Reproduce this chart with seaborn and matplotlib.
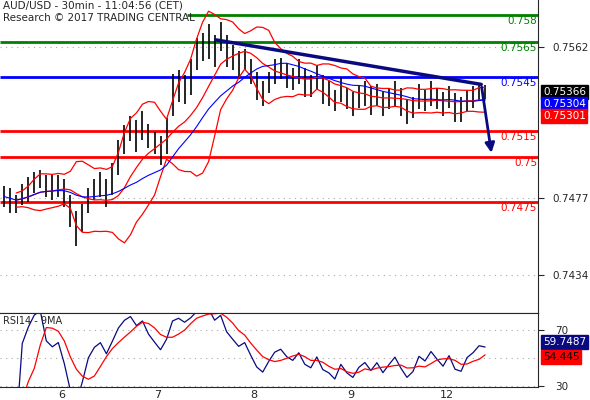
import matplotlib
matplotlib.use("Agg")
import matplotlib.pyplot as plt
import numpy as np
import pandas as pd
import seaborn as sns

# closes in pips above 0.7400, one bar every 1.5h, trading-day axis (6=1, 7=2, 8=3, 9=4, 12=5)
closes_pips = [78, 76, 74, 79, 82, 86, 88, 84, 83, 84,
               80, 70, 60, 66, 76,
               82, 85, 80, 88, 100,
               110, 116, 112, 118, 112,
               108, 104, 112,
               135, 140, 138, 145, 158,
               162, 165, 160, 168, 160,
               156, 152, 155, 148, 140,
               136, 142, 148, 150, 146,
               144, 148, 142, 140, 145,
               138, 136, 132, 138, 133,
               130, 134, 136, 132, 135,
               130, 133, 136, 131, 126,
               128, 134, 132, 136, 133,
               130, 134, 128, 127, 132,
               134, 137, 136.6]
half_ranges = [6, 7, 5, 6, 7, 6, 5, 6, 7, 6,
               8, 9, 10, 8, 7,
               6, 7, 8, 9, 10,
               8, 7, 9, 8, 7,
               6, 8, 10,
               12, 9, 8, 10, 9,
               8, 10, 9, 8, 9,
               7, 8, 6, 7, 8,
               7, 6, 7, 6, 7,
               6, 7, 8, 6, 7,
               8, 7, 6, 7, 6,
               7, 6, 7, 8, 6,
               7, 6, 7, 8, 7,
               6, 7, 6, 7, 6,
               7, 6, 8, 7, 6,
               6, 5, 4]

levels = [0.758, 0.7565, 0.7545, 0.7515, 0.75, 0.7475]
level_labels = ["0.758", "0.7565", "0.7545", "0.7515", "0.75", "0.7475"]
level_colors = ["#008000", "#008000", "#0000ff", "#ff0000", "#ff0000", "#ff0000"]
price_ticks = [0.7562, 0.7477, 0.7434]
day_ticks = [1, 2, 3, 4, 5]
day_labels = ["6", "7", "8", "9", "12"]

close = 0.74 + np.array(closes_pips) / 1e4
half = np.array(half_ranges) / 1e4
t = 0.4 + np.arange(len(close)) / 16
df = pd.DataFrame({"t": t, "close": close})
mid = df["close"].rolling(9, min_periods=3).mean()
sd = df["close"].rolling(9, min_periods=3).std()
df["upper"] = mid + 2 * sd
df["lower"] = mid - 2 * sd
df["mid"] = mid
df["ma"] = df["close"].rolling(16, min_periods=1).mean()
delta = df["close"].diff()
gain = delta.clip(lower=0).ewm(alpha=1 / 8, min_periods=1).mean()
loss = (-delta.clip(upper=0)).ewm(alpha=1 / 8, min_periods=1).mean()
df["rsi"] = 100 - 100 / (1 + gain / loss.replace(0, 1e-9))
df["rsi_ma"] = df["rsi"].rolling(5, min_periods=1).mean()

sns.set_style("white")
plt.rcParams["font.family"] = ["DejaVu Sans"]
fig = plt.figure(figsize=(5.9, 4.0), dpi=100)
W, H = 590, 400
ax = fig.add_axes([0, 1 - 313 / H, 538 / W, 313 / H])
ar = fig.add_axes([0, 1 - 387 / H, 538 / W, 74 / H], sharex=ax)
xmin, xmax = 0.356, 5.95
ax.set_xlim(xmin, xmax)
ax.set_ylim(0.74126, 0.75884)

for y in price_ticks:
    ax.axhline(y, color="#aaaaaa", ls=(0, (1, 4)), lw=0.8)
for y, lab, c in zip(levels, level_labels, level_colors):
    x0 = 2.3 if y == 0.758 else xmin
    ax.hlines(y, x0, xmax, color=c, lw=2)
    ax.text(5.94, y - 0.00005, lab, color=c, fontsize=7.5, ha="right", va="top")

ax.vlines(df["t"], df["close"] - half, df["close"] + half, color="black", lw=1.2)
sns.lineplot(data=df, x="t", y="upper", ax=ax, color="red", lw=0.9)
sns.lineplot(data=df, x="t", y="lower", ax=ax, color="red", lw=0.9)
sns.lineplot(data=df, x="t", y="mid", ax=ax, color="red", lw=0.9)
sns.lineplot(data=df, x="t", y="ma", ax=ax, color="#0000ff", lw=0.8)

ax.plot([2.6, 5.36], [0.7566, 0.7541], color="#0a0a80", lw=2.5)
ax.annotate("", xy=(5.47, 0.7501), xytext=(5.36, 0.7541),
            arrowprops=dict(arrowstyle="-|>", color="#0a0a80", lw=2, mutation_scale=14))

ax.yaxis.tick_right()
ax.set_yticks(price_ticks)
ax.set_yticklabels([f"{v:.4f}" for v in price_ticks], fontsize=7.5)
ax.tick_params(axis="y", length=4, pad=6)
ax.tick_params(axis="x", bottom=False, labelbottom=False)
ax.set_xlabel("")
ax.set_ylabel("")
for s in ["left", "top"]:
    ax.spines[s].set_visible(False)
ax.text(0.005, 0.997, "AUD/USD - 30min - 11:04:56 (CET)\nResearch © 2017 TRADING CENTRAL",
        transform=ax.transAxes, fontsize=7.5, va="top", linespacing=1.25)

tags = [(0.75366, "0.75366", "black"), (0.75304, "0.75304", "#0000ff"), (0.75301, "0.75301", "red")]
for i, (y, lab, c) in enumerate(tags):
    fig.text(543 / W, 1 - (92 + 12 * i) / H, lab, color="white", fontsize=7.5, va="center",
             bbox=dict(boxstyle="square,pad=0.15", fc=c, ec=c))

ar.set_ylim(29.3, 82.1)
for y in [70, 50, 30]:
    ar.axhline(y, color="#aaaaaa", ls=(0, (1, 4)), lw=0.8)
sns.lineplot(data=df, x="t", y="rsi", ax=ar, color="#0a0a80", lw=0.9)
sns.lineplot(data=df, x="t", y="rsi_ma", ax=ar, color="red", lw=0.9)
ar.yaxis.tick_right()
ar.set_yticks([70, 30])
ar.tick_params(axis="y", labelsize=7.5, length=4, pad=8)
ar.set_xticks(day_ticks)
ar.set_xticklabels(day_labels, fontsize=8)
ar.tick_params(axis="x", length=4, direction="in", pad=2)
ar.set_xlabel("")
ar.set_ylabel("")
ar.spines["left"].set_visible(False)
ar.text(0.005, 0.96, "RSI14 - 9MA", transform=ar.transAxes, fontsize=7, va="top")
fig.text(543 / W, 1 - 342 / H, "59.7487", color="white", fontsize=7.5, va="center",
         bbox=dict(boxstyle="square,pad=0.15", fc="#0a0a80", ec="#0a0a80"))
fig.text(543 / W, 1 - 357 / H, "54.445", color="#000000", fontsize=7.5, va="center",
         bbox=dict(boxstyle="square,pad=0.15", fc="red", ec="red"))

fig.savefig("out.png", dpi=100)
